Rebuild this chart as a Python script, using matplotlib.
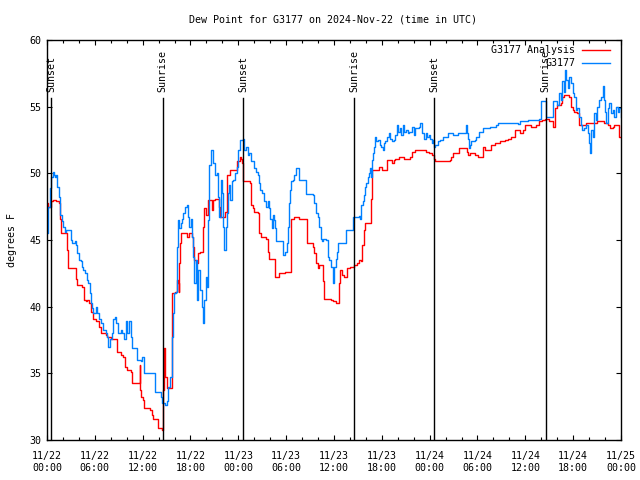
"""
Dew point plot for station G3177, 2024-11-22 .. 2024-11-25 (UTC).
Observed dew point vs analysis, with sunrise/sunset markers.
"""

import numpy as np
import pandas as pd
import matplotlib
matplotlib.use("Agg")
import matplotlib.pyplot as plt
import matplotlib.dates as mdates

# ---------------------------------------------------------------- data
START = pd.Timestamp("2024-11-22 00:00")
END = pd.Timestamp("2024-11-25 00:00")

# hours since START, dew point (F) for the analysis
analysis_hours = [
    0.00, 0.17, 0.54, 0.75, 1.09, 1.51, 1.59, 1.72, 2.47, 2.55, 2.68, 3.39, 3.60, 3.72,
    4.44, 4.64, 4.85, 5.06, 5.27, 5.48, 5.82, 6.11, 6.53, 6.82, 7.36, 7.57, 7.99, 8.62,
    8.74, 9.25, 9.58, 9.75, 10.00, 10.59, 10.71, 11.55, 11.63, 11.72, 11.80, 12.00, 12.17,
    12.93, 13.13, 13.26, 13.76, 13.97, 14.39, 14.60, 14.68, 14.81, 15.02, 15.44, 15.64,
    15.73, 16.06, 16.27, 16.40, 16.52, 16.61, 16.69, 16.82, 17.53, 17.86, 18.16, 18.36,
    18.49, 18.70, 18.91, 19.20, 19.45, 19.53, 19.66, 19.87, 19.95, 20.16, 20.46, 20.67,
    20.79, 21.08, 21.50, 21.59, 21.71, 22.34, 22.55, 22.97, 23.59, 23.80, 24.22, 24.34,
    24.46, 24.63, 25.47, 25.63, 25.80, 26.01, 26.43, 26.56, 26.85, 27.48, 27.68, 27.89,
    28.52, 28.65, 29.15, 29.78, 29.90, 30.53, 30.66, 31.03, 31.66, 32.50, 32.62, 33.42,
    33.54, 33.75, 33.96, 34.17, 34.50, 34.59, 34.71, 35.63, 35.84, 36.26, 36.51, 36.60,
    36.81, 37.02, 37.22, 37.52, 37.64, 38.06, 38.48, 38.90, 39.11, 39.44, 39.53, 39.73,
    39.94, 40.57, 40.66, 40.78, 41.62, 42.04, 42.45, 42.66, 43.29, 43.50, 43.71, 44.13,
    44.76, 45.59, 45.80, 46.22, 47.48, 47.89, 48.31, 48.55, 48.72, 49.68, 49.89, 50.52,
    50.73, 50.94, 51.69, 52.61, 52.74, 52.82, 53.03, 53.66, 54.08, 54.70, 54.91, 55.75,
    56.17, 56.80, 57.42, 57.84, 58.26, 58.76, 59.31, 59.72, 59.93, 60.35, 60.69, 61.31,
    61.73, 62.15, 62.49, 62.99, 63.53, 63.70, 64.03, 64.45, 64.66, 64.87, 65.50, 65.71,
    65.92, 66.13, 66.54, 66.75, 67.59, 68.22, 69.05, 69.89, 70.31, 70.64, 70.94, 71.15,
    71.57, 71.78, 72.00,
]
analysis_dewpt = [
    47.75, 47.5, 47.9, 48.0, 47.9, 47.8, 46.6, 45.5, 45.4, 44.25, 42.9, 42.9, 42.1, 41.6,
    41.5, 40.5, 40.4, 40.5, 40.25, 39.6, 39.1, 38.9, 38.5, 38.0, 37.9, 37.75, 37.6, 37.6,
    36.6, 36.4, 36.25, 35.5, 35.25, 35.1, 34.25, 34.25, 35.6, 33.75, 33.25, 33.0, 32.4,
    32.25, 31.9, 31.6, 31.6, 30.9, 30.75, 33.75, 36.9, 34.75, 33.9, 33.9, 37.5,
    41.0, 41.1, 42.0, 41.75, 41.1, 43.25, 44.75, 45.5, 45.25, 45.5, 45.25, 44.5,
    43.5, 43.25, 44.0, 44.1, 44.1, 46.0, 47.4, 47.4, 46.9, 48.0, 48.0, 47.25,
    48.0, 48.1, 48.1, 47.5, 46.75, 47.1, 49.9, 50.25, 50.25, 50.9, 51.25, 51.1,
    50.75, 49.4, 49.25, 47.6, 47.4, 47.1, 47.0, 45.5, 45.25, 45.1, 44.1, 43.6,
    43.6, 42.25, 42.5, 42.5, 42.6, 42.6, 46.6, 46.75, 46.6, 46.6, 44.75, 44.5,
    44.0, 43.25, 42.9, 43.1, 43.1, 41.9, 40.6, 40.5, 40.4, 40.25, 40.25, 41.75,
    42.75, 42.4, 42.25, 42.25, 42.9, 43.0, 43.1, 43.25, 43.5, 43.4, 44.6, 45.75,
    46.25, 46.25, 48.1, 50.25, 50.5, 50.25, 50.25, 51.0, 50.75, 51.0, 51.1, 51.25,
    51.1, 51.25, 51.6, 51.75, 51.6, 51.5, 51.4, 51.1, 50.95, 50.9, 50.95, 51.0,
    51.25, 51.5, 51.9, 51.9, 51.6, 51.4, 51.5, 51.4, 51.25, 52.0, 51.75, 52.1,
    52.25, 52.4, 52.5, 52.6, 52.75, 53.25, 53.0, 53.25, 53.6, 53.6, 53.5, 53.6,
    53.9, 54.0, 54.1, 53.9, 53.5, 54.9, 55.1, 55.25, 55.75, 55.9, 55.75, 55.0,
    54.75, 54.6, 54.5, 53.6, 53.75, 53.8, 53.9, 53.75, 53.6, 53.4, 53.5, 53.6,
    53.6, 52.75, 52.75,
]

# hours since START, dew point (F) observed at G3177
obs_hours = [
    0.00, 0.13, 0.38, 0.54, 0.75, 0.88, 1.00, 1.13, 1.21, 1.46, 1.63, 1.84, 2.05, 2.22,
    2.43, 2.97, 3.18, 3.47, 3.60, 3.72, 4.02, 4.23, 4.35, 4.56, 4.73, 4.98, 5.19, 5.36,
    5.48, 5.61, 5.82, 6.11, 6.32, 6.53, 6.74, 7.03, 7.36, 7.57, 7.70, 7.87, 8.12, 8.28,
    8.54, 8.70, 8.91, 9.25, 9.46, 9.67, 9.87, 10.08, 10.29, 10.50, 10.71, 11.13, 11.26,
    11.76, 11.88, 12.17, 13.34, 13.55, 14.18, 14.31, 14.47, 14.81, 15.02, 15.23, 15.44,
    15.64, 15.73, 15.85, 15.98, 16.15, 16.27, 16.40, 16.48, 16.61, 16.77, 16.90, 17.11,
    17.32, 17.53, 17.65, 17.86, 18.03, 18.16, 18.36, 18.49, 18.66, 18.78, 18.99, 19.20,
    19.41, 19.62, 19.75, 19.91, 20.04, 20.16, 20.33, 20.54, 20.75, 20.87, 21.08, 21.29,
    21.50, 21.63, 21.80, 21.92, 22.13, 22.26, 22.42, 22.55, 22.67, 22.84, 22.97, 23.18,
    23.39, 23.59, 23.80, 24.01, 24.22, 24.34, 24.55, 24.76, 24.97, 25.17, 25.38, 25.59,
    25.80, 26.01, 26.22, 26.43, 26.56, 26.72, 26.97, 27.27, 27.48, 27.68, 27.89, 28.02,
    28.19, 28.31, 28.44, 28.61, 28.73, 29.48, 29.57, 29.90, 30.07, 30.20, 30.32, 30.49,
    30.61, 30.82, 31.03, 31.24, 31.49, 31.66, 32.41, 32.50, 33.33, 33.54, 33.75, 33.96,
    34.17, 34.38, 34.50, 34.67, 35.01, 35.22, 35.43, 35.63, 35.84, 36.05, 36.26, 36.39,
    36.51, 37.43, 37.56, 38.27, 38.40, 39.11, 39.32, 39.44, 39.61, 39.82, 39.94, 40.07,
    40.24, 40.36, 40.49, 40.70, 40.78, 40.91, 41.07, 41.20, 41.33, 41.53, 41.74, 41.95,
    42.12, 42.25, 42.45, 42.66, 42.87, 43.08, 43.29, 43.50, 43.71, 43.84, 44.04, 44.25,
    44.42, 44.63, 44.84, 45.05, 45.30, 45.47, 45.80, 46.01, 46.22, 46.43, 46.64, 46.85,
    47.06, 47.27, 47.48, 47.68, 47.89, 48.10, 48.30, 48.43, 48.55, 48.72, 49.06, 49.26,
    49.68, 50.31, 50.94, 51.57, 52.40, 52.53, 52.70, 52.82, 52.95, 53.11, 53.24, 53.66,
    53.87, 54.16, 54.70, 55.54, 56.38, 56.59, 59.10, 59.31, 60.35, 61.52, 61.73, 61.94,
    62.49, 62.65, 63.41, 63.53, 63.95, 64.03, 64.24, 64.45, 64.66, 64.79, 64.95, 65.08,
    65.29, 65.50, 65.71, 65.92, 66.13, 66.34, 66.54, 66.75, 66.96, 67.17, 67.38, 67.59,
    67.80, 68.01, 68.09, 68.22, 68.43, 68.64, 68.85, 69.05, 69.26, 69.47, 69.68, 69.81,
    69.98, 70.10, 70.31, 70.52, 70.73, 70.94, 71.15, 71.36, 71.57, 71.78, 71.99, 72.00,
]
obs_dewpt = [
    45.5, 47.5, 48.9, 49.75, 50.1, 49.9, 49.75, 49.9, 48.95, 48.25, 46.9, 46.4, 46.0, 45.6,
    45.75, 45.0, 44.75, 44.9, 44.6, 44.0, 43.5, 43.4, 43.0, 42.75, 42.5, 42.0, 41.75, 41.0,
    40.25, 39.9, 39.5, 40.0, 39.5, 39.1, 38.75, 38.25, 38.0, 37.75, 37.0, 37.6, 38.0, 39.1,
    39.25, 38.75, 38.0, 38.25, 38.0, 37.6, 38.9, 38.0, 38.9, 37.75, 36.9, 36.9, 36.0,
    35.9, 36.2, 35.0, 35.0, 33.6, 33.6, 33.25, 32.75, 32.6, 32.9, 34.0, 34.75,
    35.5, 37.75, 39.5, 41.0, 41.1, 44.5, 46.0, 46.5, 45.9, 46.25, 46.6, 47.0,
    47.5, 47.6, 46.75, 46.0, 46.6, 45.25, 43.75, 41.75, 43.5, 40.5, 42.75, 41.25,
    40.0, 38.75, 40.5, 42.25, 41.5, 46.5, 50.6, 51.75, 51.75, 50.75, 49.9, 50.0,
    48.25, 46.75, 49.5, 48.5, 46.0, 44.25, 46.0, 47.0, 48.5, 49.1, 48.0, 49.4,
    49.5, 50.0, 50.5, 51.75, 52.5, 52.5, 52.6, 51.75, 52.0, 51.4, 51.5, 50.9,
    50.9, 50.4, 50.1, 49.9, 49.25, 48.75, 48.5, 47.9, 47.5, 47.9, 47.4, 46.6,
    45.9, 46.9, 46.5, 45.9, 44.9, 44.9, 43.9, 44.1, 44.75, 46.0, 47.75, 48.75,
    49.4, 49.5, 49.9, 50.4, 50.4, 49.5, 49.5, 48.45, 48.4, 47.75, 47.0, 46.75,
    46.0, 45.1, 44.9, 45.1, 45.0, 43.75, 43.5, 43.0, 41.75, 43.0, 43.6, 44.1,
    44.75, 44.75, 45.75, 45.75, 46.75, 46.8, 46.6, 47.6, 47.9, 48.4, 49.0, 49.25,
    49.75, 50.0, 50.4, 49.75, 51.0, 51.5, 52.0, 52.75, 52.4, 52.5, 52.1, 52.0,
    51.75, 52.25, 52.4, 52.75, 53.0, 52.6, 52.4, 52.5, 52.9, 53.6, 53.1, 53.4,
    52.9, 53.6, 53.1, 53.25, 53.0, 53.1, 53.5, 52.9, 53.4, 53.4, 53.5, 53.75,
    53.0, 52.6, 53.0, 52.75, 52.9, 52.6, 52.25, 52.5, 52.0, 52.1, 52.4, 52.5,
    52.75, 53.0, 52.9, 53.0, 53.0, 53.6, 53.0, 52.6, 51.9, 52.1, 52.4, 52.5,
    52.75, 53.1, 53.4, 53.5, 53.6, 53.75, 53.7, 53.9, 54.0, 54.0, 54.1, 55.4,
    55.4, 54.25, 54.25, 55.4, 55.4, 55.1, 56.0, 55.5, 56.9, 56.1, 57.75, 57.0,
    56.4, 57.25, 56.75, 56.0, 55.75, 54.75, 54.9, 54.25, 53.6, 53.25, 53.4, 53.6,
    53.0, 52.25, 51.5, 53.25, 52.75, 54.5, 54.0, 55.0, 55.5, 55.75, 56.55, 55.5,
    54.6, 53.75, 54.9, 55.25, 54.5, 54.75, 54.25, 55.0, 54.6, 54.9, 54.25, 54.25,
]

sun_times = ["2024-11-22 00:33", "2024-11-22 14:31", "2024-11-23 00:37",
             "2024-11-23 14:34", "2024-11-24 00:34", "2024-11-24 14:34"]
sun_labels = ["Sunset", "Sunrise", "Sunset", "Sunrise", "Sunset", "Sunrise"]

RED = "#ff0000"
BLUE = "#0080ff"
FONT = "DejaVu Sans Mono"
FS = 7.2


def to_time(hours):
    return START + pd.to_timedelta(np.asarray(hours), unit="h")


# ---------------------------------------------------------------- chart
plt.rcParams["font.family"] = FONT
plt.rcParams["font.size"] = FS

fig = plt.figure(figsize=(6.4, 4.8), dpi=100)
ax = fig.add_axes([47 / 640, 40 / 480, 574 / 640, 400 / 480])

ax.plot(to_time(analysis_hours), analysis_dewpt, color=RED, lw=1.0,
        drawstyle="steps-post", zorder=2)
ax.plot(to_time(obs_hours), obs_dewpt, color=BLUE, lw=1.0,
        drawstyle="steps-post", zorder=2.5)

for t, lab in zip(sun_times, sun_labels):
    t = pd.Timestamp(t)
    ax.axvline(t, ymin=0, ymax=0.855, color="black", lw=1.0, zorder=3)
    ax.text(t, 0.87, lab, transform=ax.get_xaxis_transform(), rotation=90,
            ha="center", va="bottom", fontsize=FS)

ax.set_xlim(START, END)
ax.set_ylim(30, 60)
ax.set_yticks(range(30, 61, 5))

ax.xaxis.set_major_locator(mdates.HourLocator(byhour=[0, 6, 12, 18]))
ax.xaxis.set_minor_locator(mdates.HourLocator(interval=2))
ax.xaxis.set_major_formatter(mdates.DateFormatter("%m/%d\n%H:%M"))

ax.tick_params(axis="both", which="both", direction="in", top=True, right=True,
               labelsize=FS, color="black")
ax.tick_params(axis="both", which="major", length=3.5, width=0.8)
ax.tick_params(axis="y", which="major", pad=4)
ax.tick_params(axis="x", which="major", pad=8)
ax.tick_params(axis="x", which="minor", length=2.0, width=0.8)
for lbl in ax.get_xticklabels():
    lbl.set_linespacing(1.25)
for sp in ax.spines.values():
    sp.set_linewidth(1.0)

# legend, gnuplot style (text then sample, top right)
legend_rows = [("G3177 Analysis", RED, 0.975), ("G3177", BLUE, 0.9425)]
for lab, col, yy in legend_rows:
    ax.text(0.920, yy, lab, transform=ax.transAxes, ha="right", va="center", fontsize=FS)
    ax.plot([0.932, 0.981], [yy, yy], transform=ax.transAxes, color=col, lw=1.0,
            clip_on=False)

fig.text(0.52, 1 - 20 / 480, "Dew Point for G3177 on 2024-Nov-22 (time in UTC)",
         ha="center", va="center", fontsize=FS)
fig.text(12 / 640, 0.5, "degrees F", rotation=90, ha="center", va="center", fontsize=FS)

fig.savefig("out.png", dpi=100)
plt.close(fig)
